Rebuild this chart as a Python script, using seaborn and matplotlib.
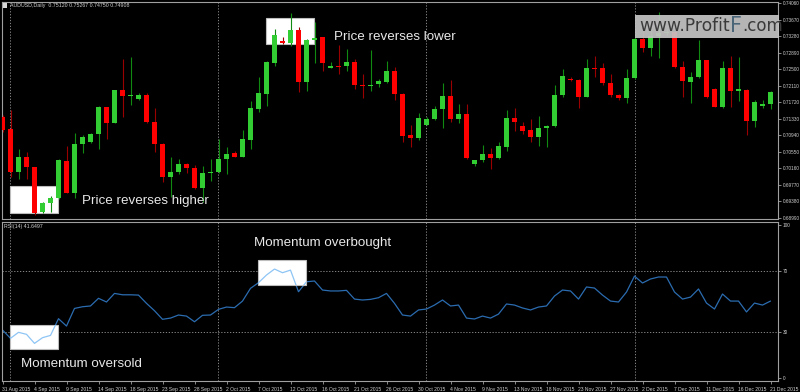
import numpy as np
import pandas as pd
import seaborn as sns
import matplotlib.pyplot as plt
from matplotlib.patches import Rectangle

W, H = 800, 392

# AUDUSD daily candles, 31 Aug 2015 .. 21 Dec 2015
opens = [0.71381, 0.71089, 0.70081, 0.70435, 0.70183, 0.69135, 0.69332, 0.69450, 0.70333, 0.69584,
         0.70727, 0.70782, 0.70971, 0.71610, 0.71231, 0.72004, 0.71870, 0.71791, 0.71893, 0.71263,
         0.70735, 0.69955, 0.70073, 0.70262, 0.70175, 0.69687, 0.70057, 0.70073, 0.70372, 0.70530,
         0.70435, 0.70829, 0.71562, 0.71925, 0.72658, 0.73170, 0.73115, 0.73430, 0.72208, 0.73201,
         0.73256, 0.72539, 0.72587, 0.72579, 0.72665, 0.72122, 0.72098, 0.72161, 0.72201, 0.72468,
         0.71925, 0.70948, 0.70885, 0.71184, 0.71318, 0.71554, 0.71877, 0.71334, 0.71452, 0.70262,
         0.70357, 0.70498, 0.70412, 0.70672, 0.71342, 0.71160, 0.71066, 0.70908, 0.71105, 0.71160,
         0.71893, 0.72279, 0.72248, 0.71846, 0.72532, 0.72532, 0.72177, 0.71901, 0.71822, 0.72295,
         0.73225, 0.73012, 0.73288, 0.73359, 0.73383, 0.72555, 0.72201, 0.72319, 0.72713, 0.72027,
         0.71617, 0.72532, 0.71996, 0.72019, 0.71271, 0.71633, 0.71673]
highs = [0.71420, 0.71539, 0.70617, 0.70554, 0.70199, 0.69372, 0.69506, 0.70388, 0.70695, 0.70987,
         0.70948, 0.70987, 0.71633, 0.71617, 0.72011, 0.72744, 0.72784, 0.71933, 0.71941, 0.71586,
         0.70751, 0.70435, 0.70372, 0.70278, 0.70238, 0.70223, 0.70372, 0.70845, 0.70664, 0.70577,
         0.71066, 0.71751, 0.72327, 0.72697, 0.73446, 0.73272, 0.73824, 0.73493, 0.73209, 0.73627,
         0.73272, 0.72665, 0.73075, 0.72973, 0.72752, 0.72390, 0.72957, 0.72264, 0.72697, 0.72563,
         0.71948, 0.71184, 0.71476, 0.71365, 0.71633, 0.72185, 0.72240, 0.71688, 0.71688, 0.70365,
         0.70703, 0.70648, 0.70774, 0.71539, 0.71586, 0.71255, 0.71326, 0.71397, 0.71184, 0.72138,
         0.72500, 0.72311, 0.72264, 0.72744, 0.72823, 0.72642, 0.72390, 0.71917, 0.72500, 0.73272,
         0.73509, 0.73548, 0.73863, 0.73446, 0.73398, 0.72689, 0.72445, 0.73193, 0.72729, 0.72051,
         0.72697, 0.72823, 0.72799, 0.72027, 0.71775, 0.71775, 0.71988]
lows = [0.71026, 0.69963, 0.69900, 0.69907, 0.69056, 0.69112, 0.69119, 0.69427, 0.69569, 0.69450,
        0.70514, 0.70751, 0.70617, 0.70845, 0.71223, 0.71365, 0.71657, 0.71775, 0.71223, 0.70538,
        0.69844, 0.69490, 0.70026, 0.70041, 0.69671, 0.69356, 0.69868, 0.70057, 0.70026, 0.70420,
        0.70420, 0.70617, 0.71483, 0.71633, 0.72587, 0.73107, 0.73052, 0.71972, 0.71996, 0.72642,
        0.72468, 0.72524, 0.72382, 0.72461, 0.72027, 0.71814, 0.71996, 0.72074, 0.72185, 0.71775,
        0.70790, 0.70672, 0.70829, 0.71176, 0.71302, 0.71105, 0.71247, 0.71239, 0.70388, 0.70223,
        0.70309, 0.70144, 0.70388, 0.70577, 0.71050, 0.70971, 0.70790, 0.70695, 0.70672, 0.71145,
        0.71854, 0.72224, 0.71578, 0.71838, 0.72327, 0.72130, 0.71838, 0.71775, 0.71696, 0.72279,
        0.72918, 0.72823, 0.72776, 0.73312, 0.72524, 0.71854, 0.71712, 0.72287, 0.71830, 0.71602,
        0.71578, 0.71602, 0.71759, 0.70948, 0.71145, 0.71594, 0.71554]
closes = [0.71066, 0.70081, 0.70435, 0.70183, 0.69096, 0.69348, 0.69450, 0.70357, 0.69584, 0.70727,
          0.70908, 0.70979, 0.71617, 0.71239, 0.72004, 0.71877, 0.71885, 0.71885, 0.71263, 0.70735,
          0.69955, 0.70081, 0.70262, 0.70175, 0.69687, 0.70057, 0.70081, 0.70372, 0.70498, 0.70435,
          0.70845, 0.71578, 0.71933, 0.72665, 0.73312, 0.73115, 0.73430, 0.72208, 0.73201, 0.73249,
          0.72642, 0.72587, 0.72563, 0.72673, 0.72122, 0.72098, 0.72138, 0.72216, 0.72468, 0.71917,
          0.70932, 0.70885, 0.71350, 0.71334, 0.71562, 0.71877, 0.71334, 0.71452, 0.70412, 0.70365,
          0.70498, 0.70412, 0.70688, 0.71342, 0.71263, 0.71050, 0.70908, 0.71113, 0.71168, 0.71885,
          0.72350, 0.72240, 0.71846, 0.72532, 0.72516, 0.72169, 0.71893, 0.71822, 0.72303, 0.73225,
          0.73012, 0.73288, 0.73351, 0.73383, 0.72547, 0.72216, 0.72327, 0.72713, 0.71846, 0.71617,
          0.72532, 0.71988, 0.72027, 0.71271, 0.71728, 0.71673, 0.71964]

rsi = [31.3, 25.9, 29.8, 28.5, 22.6, 26.3, 27.8, 38.7, 33.9, 45.4,
       46.5, 47.0, 52.0, 49.6, 55.2, 54.3, 54.3, 54.1, 48.7, 43.9,
       38.3, 39.1, 41.1, 40.4, 36.7, 40.9, 41.1, 44.8, 46.3, 45.9,
       50.2, 58.5, 62.2, 67.2, 71.1, 68.7, 70.4, 56.3, 62.8, 63.3,
       57.4, 56.8, 56.8, 57.2, 51.5, 50.9, 51.3, 52.4, 55.2, 48.7,
       41.1, 40.4, 44.4, 45.0, 47.6, 50.9, 47.0, 47.6, 39.1, 38.5,
       40.4, 39.1, 41.7, 48.3, 47.6, 45.7, 44.4, 46.3, 47.0, 53.5,
       57.4, 56.8, 51.5, 59.4, 58.7, 54.1, 50.2, 49.6, 56.1, 66.5,
       62.0, 64.6, 65.9, 65.9, 56.1, 51.5, 52.8, 58.1, 48.9, 45.0,
       54.8, 50.2, 50.2, 43.1, 48.9, 47.6, 50.2]

date_labels = ["31 Aug 2015", "4 Sep 2015", "9 Sep 2015", "14 Sep 2015", "18 Sep 2015",
               "23 Sep 2015", "28 Sep 2015", "2 Oct 2015", "7 Oct 2015", "12 Oct 2015",
               "16 Oct 2015", "21 Oct 2015", "26 Oct 2015", "30 Oct 2015", "4 Nov 2015",
               "9 Nov 2015", "13 Nov 2015", "18 Nov 2015", "23 Nov 2015", "27 Nov 2015",
               "2 Dec 2015", "7 Dec 2015", "11 Dec 2015", "16 Dec 2015", "21 Dec 2015"]
price_ticks = [0.74060, 0.73670, 0.73280, 0.72890, 0.72500, 0.72110, 0.71720,
               0.71330, 0.70940, 0.70550, 0.70160, 0.69770, 0.69380, 0.68990]
rsi_ticks = [0, 30, 70, 100]

GREEN, RED = "#32cd32", "#ff0000"
GREEN_WICK, RED_WICK = "#118a11", "#9a0000"
FRAME = "#a0a0a0"
TXT = "#cfcfcf"

df = pd.DataFrame({"open": opens, "high": highs, "low": lows, "close": closes, "rsi": rsi})
df["bar"] = np.arange(len(df))
up = df["close"] >= df["open"]

sns.set_theme(style="dark", rc={"axes.facecolor": "black", "figure.facecolor": "black"})
plt.rcParams["font.family"] = ["Liberation Sans", "DejaVu Sans"]

fig = plt.figure(figsize=(W / 100, H / 100), dpi=100)


def fx(px):
    return px / W


def fy(py):
    return 1 - py / H


left, right = 1.5, 778
ax1 = fig.add_axes([fx(left), fy(219), fx(right) - fx(left), fy(2) - fy(219)])
ax2 = fig.add_axes([fx(left), fy(381), fx(right) - fx(left), fy(222) - fy(381)])

xlim = ((left - 2.5) / 8, (right - 2.5) / 8)
grid_bars = [0.94, 26.97, 52.98, 79.1]

# --- price panel
ax1.vlines(df["bar"], df["low"], df["high"], colors=np.where(up, GREEN_WICK, RED_WICK),
           lw=0.8, zorder=3)
body_h = (df["close"] - df["open"]).abs().clip(lower=0.00014)
ax1.bar(df["bar"], body_h, bottom=df[["open", "close"]].min(axis=1), width=0.66,
        color=np.where(up, GREEN, RED), linewidth=0, zorder=4)
ax1.set_xlim(*xlim)
ax1.set_ylim(0.68962, 0.74091)

ax1.add_patch(Rectangle((0.94, 0.69097), 5.96, 0.00645, facecolor="white",
                        edgecolor="#bdbdbd", lw=0.8, zorder=2))
ax1.add_patch(Rectangle((32.94, 0.73092), 6.04, 0.00628, facecolor="white",
                        edgecolor="#bdbdbd", lw=0.8, zorder=2))

ax1.text(10.0, 0.69390, "Price reverses higher", color="#e8e8e8", fontsize=9.6,
         va="center", ha="left", zorder=6)
ax1.text(41.4, 0.73260, "Price reverses lower", color="#e8e8e8", fontsize=9.6,
         va="center", ha="left", zorder=6)

# --- RSI panel
sns.lineplot(x=df["bar"], y=df["rsi"], ax=ax2, color="#2b6cb0", lw=0.9, zorder=2)
for (x0, x1, y0, y1) in [(0.94, 6.9, 18.7, 34.6), (31.98, 37.9, 60.7, 77.0)]:
    box = Rectangle((x0, y0), x1 - x0, y1 - y0, facecolor="white", edgecolor="#bdbdbd",
                    lw=0.8, zorder=2.5)
    ax2.add_patch(box)
    light, = ax2.plot(df["bar"], df["rsi"], color="#8ec5f5", lw=0.9, zorder=3)
    light.set_clip_path(box)
ax2.axhline(70, color="#9a9a9a", ls=(0, (1.5, 2)), lw=0.6, zorder=1)
ax2.axhline(30, color="#9a9a9a", ls=(0, (1.5, 2)), lw=0.6, zorder=1)
ax2.set_xlim(*xlim)
ax2.set_ylim(-1.96, 101.8)
ax2.set_xlabel("")
ax2.set_ylabel("")

ax2.text(31.4, 88.0, "Momentum overbought", color="#e8e8e8", fontsize=9.6,
         va="center", ha="left", zorder=6)
ax2.text(2.3, 9.3, "Momentum oversold", color="#e8e8e8", fontsize=9.6,
         va="center", ha="left", zorder=6)

for ax in (ax1, ax2):
    ax.grid(False)
    for b in grid_bars:
        ax.axvline(b, color="#9a9a9a", ls=(0, (1.5, 2)), lw=0.6, zorder=1)
    for s in ax.spines.values():
        s.set_color(FRAME)
        s.set_linewidth(0.8)
    ax.yaxis.tick_right()
    ax.tick_params(axis="y", which="both", right=True, length=2.0, width=0.6,
                   color=FRAME, labelsize=3.4, labelcolor=TXT, pad=1.2)

ax1.set_xticks([])
ax1.set_yticks(price_ticks)
ax1.set_yticklabels([f"{p:.5f}" for p in price_ticks])
ax2.set_yticks(rsi_ticks)
ax2.set_yticklabels([str(v) for v in rsi_ticks])

ax2.set_xticks(np.arange(0, len(df), 4))
ax2.set_xticklabels(date_labels, ha="left")
ax2.tick_params(axis="x", bottom=True, length=2.5, width=0.6, color=FRAME,
                labelsize=3.6, labelcolor=TXT, pad=1.5)

# header texts
fig.patches.append(Rectangle((fx(2.5), fy(7.5)), fx(4), fy(3.5) - fy(7.5), transform=fig.transFigure,
                             facecolor="#d8d8d8", edgecolor="none", figure=fig))
fig.text(fx(10.5), fy(5.5), "AUDUSD,Daily  0.75120 0.75267 0.74750 0.74908",
         color=TXT, fontsize=3.8, va="center", ha="left")
fig.text(fx(4), fy(226.5), "RSI(14) 41.6497", color=TXT, fontsize=3.8, va="center", ha="left")

# watermark
fig.patches.append(Rectangle((fx(635), fy(38)), fx(779) - fx(635), fy(15) - fy(38),
                             transform=fig.transFigure, facecolor="#c4c4c4", alpha=0.93,
                             edgecolor="none", figure=fig, zorder=10))
fig.text(fx(729.5), fy(26), "www.Profit", color="#3a3a3a", fontsize=12.3, ha="right",
         va="center", family=["DejaVu Sans"], zorder=11)
fig.text(fx(730.5), fy(25.5), "F", color="#4a6478", fontsize=15, ha="left",
         va="center", family=["DejaVu Sans"], zorder=11)
fig.text(fx(742.5), fy(26), ".com", color="#3a3a3a", fontsize=12, ha="left",
         va="center", family=["DejaVu Sans"], zorder=11)

fig.savefig("out.png", dpi=100, facecolor="black")
